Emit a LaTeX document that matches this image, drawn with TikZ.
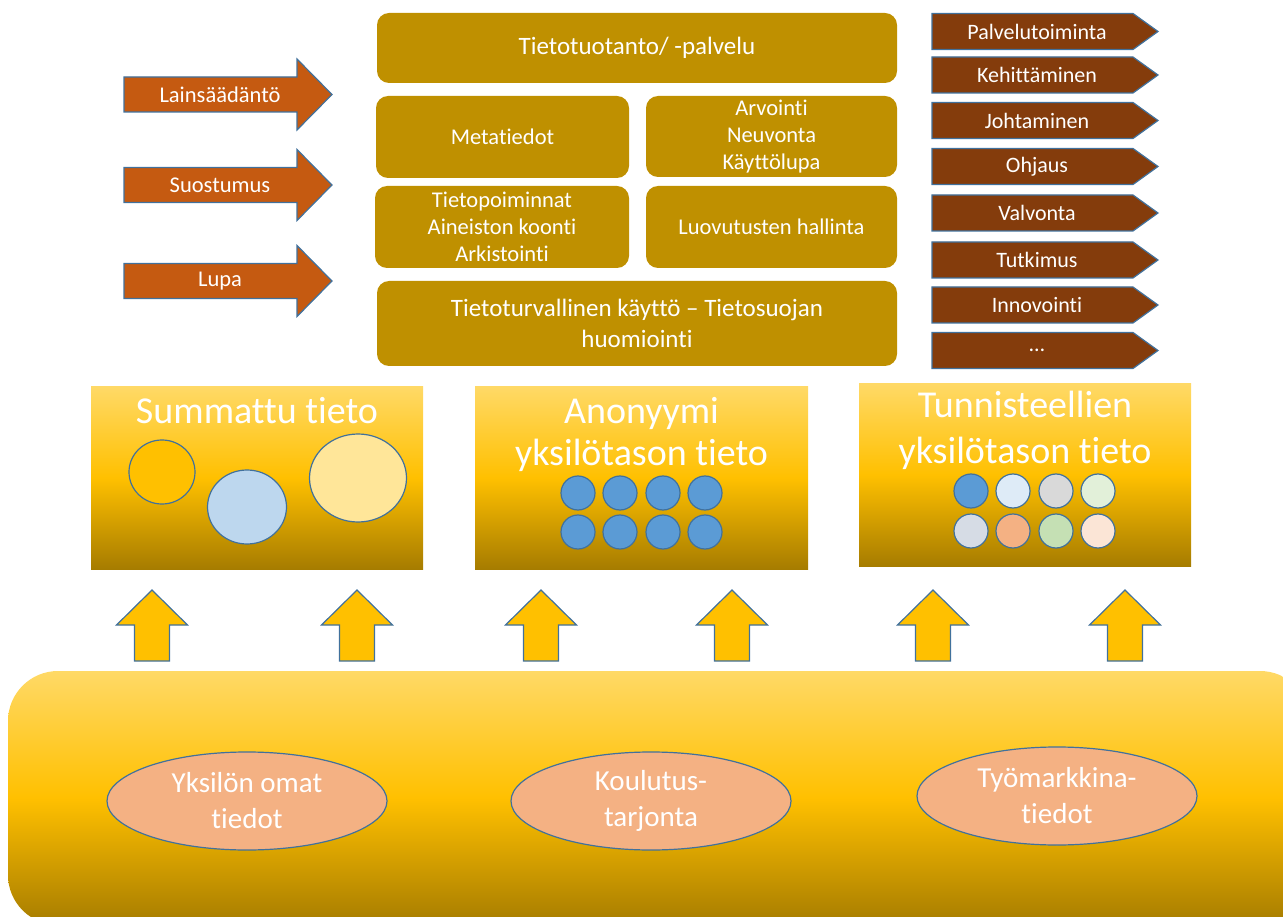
\documentclass[tikz,border=0pt]{standalone}
\usepackage{fontspec}
\setmainfont{Carlito}[Ligatures=NoCommon]
\usetikzlibrary{shapes.geometric}
\definecolor{lawc}{HTML}{C55A11}
\definecolor{chevc}{HTML}{843C0C}
\definecolor{goldc}{HTML}{BF9000}
\definecolor{edgeblue}{HTML}{41719C}
\definecolor{ambery}{HTML}{FFC000}
\definecolor{lighty}{HTML}{FFD966}
\definecolor{darky}{HTML}{A67C00}
\definecolor{peach}{HTML}{F4B183}
\definecolor{dotblue}{HTML}{5B9BD5}
\definecolor{paleblue}{HTML}{BDD7EE}
\definecolor{paleyellow}{HTML}{FFE699}

\begin{document}
\begin{tikzpicture}[x=1pt, y=-1pt,
  edge/.style={draw=edgeblue, line width=1.2pt},
  lawarrow/.style={edge, fill=lawc},
  usechev/.style={edge, fill=chevc},
  uparrow/.style={edge, fill=ambery},
  lbl/.style={text=white, font=\fontsize{22.5}{26}\selectfont},
  goldbox/.style={fill=goldc, rounded corners=12pt, text=white, align=center,
    font=\fontsize{22.5}{27}\selectfont, inner sep=0pt},
  levelbox/.style={top color=lighty, bottom color=darky, middle color=ambery},
  leveltitle/.style={text=white, align=center, font=\fontsize{38}{42}\selectfont},
  dot/.style={circle, edge, minimum size=34pt, inner sep=0pt},
  blob/.style={ellipse, edge, inner sep=0pt},
  source/.style={ellipse, edge, fill=peach, minimum width=280pt, minimum height=98pt,
    text=white, align=center, font=\fontsize{29}{36}\selectfont}]
\useasboundingbox (0,0) rectangle (1283,917);
\clip (0,0) rectangle (1283,917);

\foreach \y/\name/\txt in {94.5/laki/Lainsäädäntö, 185/suostumus/Suostumus, 281/lupa/Lupa} {
  \draw[lawarrow] (124,\y-17.5) -- (297,\y-17.5) -- (297,\y-35.5) -- (332,\y)
    -- (297,\y+35.5) -- (297,\y+17.5) -- (124,\y+17.5) -- cycle;
  \node[lbl] (\name) at (220,\y) {\txt};
}

\node[goldbox, minimum width=520pt, minimum height=70pt, font=\fontsize{25}{30}\selectfont] (tuotanto) at (637,48) {Tietotuotanto/ -palvelu};
\node[goldbox, minimum width=253pt, minimum height=82pt] (meta) at (502.5,137) {Metatiedot};
\node[goldbox, minimum width=251pt, minimum height=81pt] (arvointi) at (771.5,136.5) {Arvointi\\Neuvonta\\Käyttölupa};
\node[goldbox, minimum width=254pt, minimum height=82pt] (poiminnat) at (502,227) {Tietopoiminnat\\Aineiston koonti\\Arkistointi};
\node[goldbox, minimum width=251pt, minimum height=82pt] (luovutus) at (771.5,227) {Luovutusten hallinta};
\node[goldbox, minimum width=520pt, minimum height=85pt, font=\fontsize{25}{31}\selectfont] (turva) at (637,323.5) {Tietoturvallinen käyttö -- Tietosuojan\\huomiointi};

\foreach \y/\name/\txt in {31.5/palvelu/Palvelutoiminta, 75/kehitys/Kehittäminen,
    120.5/johto/Johtaminen, 166.5/ohjaus/Ohjaus, 213/valvonta/Valvonta,
    260/tutkimus/Tutkimus, 305/innovointi/Innovointi, 350.5/muut/{\ldots}} {
  \draw[usechev] (932,\y-18) -- (1133,\y-18) -- (1158,\y) -- (1133,\y+18) -- (932,\y+18) -- cycle;
  \node[lbl, font=\fontsize{22}{24}\selectfont] (\name) at (1037,\y) {\txt};
}

\shade[levelbox] (91,387) rectangle (423,569);
\shade[levelbox] (475,387) rectangle (808,569);
\shade[levelbox] (859,384) rectangle (1191,566);
\node[leveltitle] (summattu) at (257,411) {Summattu tieto};
\node[leveltitle] (anonyymi) at (641.5,434) {Anonyymi\\yksilötason tieto};
\node[leveltitle, font=\fontsize{38}{46}\selectfont] (tunniste) at (1025,430) {Tunnisteellien\\yksilötason tieto};

\node[blob, fill=ambery, minimum width=66pt, minimum height=64pt] (pieni) at (162,472) {};
\node[blob, fill=paleblue, minimum width=79pt, minimum height=74pt] (keski) at (247,507) {};
\node[blob, fill=paleyellow, minimum width=97pt, minimum height=88pt] (suuri) at (358,478) {};

\foreach \x [count=\i] in {578,620,663,705} {
  \node[dot, fill=dotblue] (a\i) at (\x,493) {};
  \node[dot, fill=dotblue] (b\i) at (\x,532) {};
}

\foreach \x/\c/\d [count=\i] in {971/5B9BD5/D6DCE5, 1013/DEEBF7/F4B183, 1056/D9D9D9/C5E0B4, 1098/E2F0D9/FBE5D6} {
  \definecolor{topdot}{HTML}{\c}
  \definecolor{lowdot}{HTML}{\d}
  \node[dot, fill=topdot] (t\i) at (\x,491) {};
  \node[dot, fill=lowdot] (u\i) at (\x,531) {};
}

\foreach \x in {152,357,541,732,933,1125} {
  \draw[uparrow] (\x,590) -- (\x+35.5,625) -- (\x+17.5,625) -- (\x+17.5,661)
    -- (\x-17.5,661) -- (\x-17.5,625) -- (\x-35.5,625) -- cycle;
}

\shade[levelbox, rounded corners=50pt] (8,671) rectangle (1310,925);
\node[source] (yksilo) at (247,801) {Yksilön omat\\tiedot};
\node[source] (koulutus) at (651,801) {Koulutus-\\tarjonta};
\node[source] (tyo) at (1057,796) {Työmarkkina-\\tiedot};
\end{tikzpicture}
\end{document}
